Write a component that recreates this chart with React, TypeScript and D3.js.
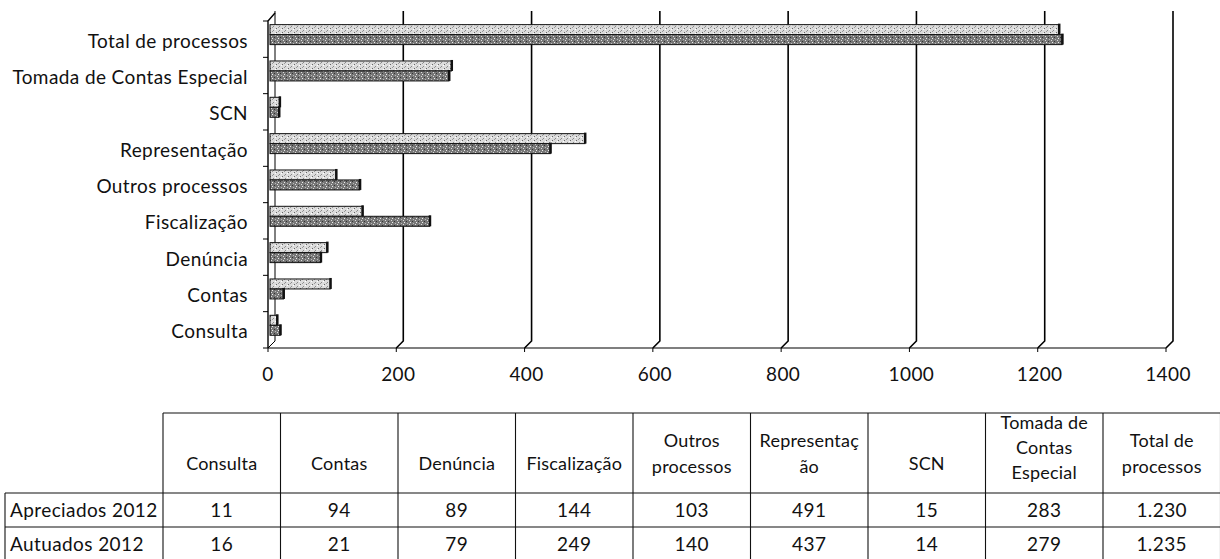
import React from "react";
import * as d3 from "d3";

const categories = [
  "Consulta",
  "Contas",
  "Denúncia",
  "Fiscalização",
  "Outros processos",
  "Representação",
  "SCN",
  "Tomada de Contas Especial",
  "Total de processos",
];
const headerLines = [
  ["Consulta"],
  ["Contas"],
  ["Denúncia"],
  ["Fiscalização"],
  ["Outros", "processos"],
  ["Representaç", "ão"],
  ["SCN"],
  ["Tomada de", "Contas", "Especial"],
  ["Total de", "processos"],
];
const seriesNames = ["Apreciados 2012", "Autuados 2012"];
const apreciados = [11, 94, 89, 144, 103, 491, 15, 283, 1230];
const autuados = [16, 21, 79, 249, 140, 437, 14, 279, 1235];
const xTicks = [0, 200, 400, 600, 800, 1000, 1200, 1400];

const FONT = "Lato, 'Open Sans', sans-serif";
const FS = 19;
const LS = 0.4;

export default function App() {
  const W = 1220;
  const H = 559;
  const floorY = 348;
  const topY = 21;
  const depthX = 7;
  const depthY = 7;

  const x = d3.scaleLinear().domain([0, 1400]).range([268, 1166]);
  const xb = d3.scaleLinear().domain([0, 1400]).range([270, 1168]);
  const y = d3
    .scaleBand<string>()
    .domain([...categories].reverse())
    .range([topY, floorY])
    .paddingInner(0)
    .paddingOuter(0);
  const bw = y.bandwidth();
  const barH = bw * 0.275;
  const off1 = bw * 0.1;

  const fmt = (v: number) => d3.format(",")(v).replace(/,/g, ".");

  const tableLeft = 163;
  const colW = 117.5;
  const rowLabelLeft = 5;
  const headTop = 413;
  const row1Top = 493;
  const row2Top = 527;
  const tableBottom = 561;
  const colX = d3.range(categories.length + 1).map((i) => tableLeft + i * colW);

  const headerYs: Record<number, number[]> = {
    1: [463],
    2: [440, 466],
    3: [422, 447, 472],
  };

  const series = [
    { name: seriesNames[0], values: apreciados, fill: "url(#patLight)", off: off1 },
    { name: seriesNames[1], values: autuados, fill: "url(#patDark)", off: off1 + barH },
  ];

  const textProps = {
    fontFamily: FONT,
    fontSize: FS,
    letterSpacing: LS,
    fill: "#111",
    dominantBaseline: "central" as const,
  };

  return (
    <svg width={W} height={H} style={{ position: "absolute", left: 0, top: 0, background: "#fff" }}>
      <defs>
        <pattern id="patLight" width="6" height="4" patternUnits="userSpaceOnUse">
          <rect width="6" height="4" fill="#dcdcdc" />
          <rect x="0" y="0" width="1" height="1" fill="#666" />
          <rect x="3" y="2" width="1" height="1" fill="#888" />
          <rect x="5" y="1" width="1" height="1" fill="#fff" />
          <rect x="2" y="3" width="1" height="1" fill="#999" />
        </pattern>
        <pattern id="patDark" width="6" height="4" patternUnits="userSpaceOnUse">
          <rect width="6" height="4" fill="#777" />
          <rect x="1" y="0" width="1" height="1" fill="#ddd" />
          <rect x="4" y="1" width="1" height="1" fill="#333" />
          <rect x="2" y="2" width="1" height="1" fill="#eee" />
          <rect x="5" y="3" width="1" height="1" fill="#bbb" />
        </pattern>
      </defs>

      {/* gridlines on back wall with floor slant */}
      {xTicks.map((t) => (
        <path
          key={"g" + t}
          d={`M${x(t) + depthX},${topY - 10} L${x(t) + depthX},${floorY - depthY} L${x(t)},${floorY}`}
          fill="none"
          stroke="#000"
          strokeWidth={t === 0 ? 1 : 1.6}
        />
      ))}

      {/* floor line and ticks */}
      <line x1={x(0)} x2={x(1400)} y1={floorY} y2={floorY} stroke="#000" strokeWidth={1.2} />
      {xTicks.map((t) => (
        <line key={"ft" + t} x1={x(t)} x2={x(t)} y1={floorY} y2={floorY + 4} stroke="#000" strokeWidth={1} />
      ))}

      {/* left axis */}
      <path d={`M${x(0) + depthX},${topY - 8} L${x(0)},${topY} L${x(0)},${floorY}`} fill="none" stroke="#000" strokeWidth={1.4} />
      {d3.range(categories.length + 1).map((i) => (
        <line
          key={"lt" + i}
          x1={x(0) - 5}
          x2={x(0)}
          y1={topY + i * bw}
          y2={topY + i * bw}
          stroke="#000"
          strokeWidth={1}
        />
      ))}

      {/* bars */}
      {series.map((s, si) =>
        categories.map((c, i) => {
          const y0 = (y(c) as number) + s.off;
          const x1 = xb(s.values[i]);
          return (
            <g key={si + "-" + c}>
              <rect x={xb(0)} y={y0} width={x1 - xb(0)} height={barH} fill={s.fill} stroke="#111" strokeWidth={1} />
              <rect x={x1 - 1} y={y0 - 1} width={2.5} height={barH + 1} fill="#111" />
            </g>
          );
        })
      )}

      {/* category labels */}
      {categories.map((c) => (
        <text key={"cl" + c} x={248} y={(y(c) as number) + bw / 2 + 1} textAnchor="end" {...textProps}>
          {c}
        </text>
      ))}

      {/* x tick labels */}
      {xTicks.map((t) => (
        <text key={"xl" + t} x={x(t) + (t === 0 ? 0 : 2)} y={373} textAnchor="middle" {...textProps}>
          {t}
        </text>
      ))}

      {/* table */}
      <g stroke="#111" strokeWidth={1.1} fill="none">
        <line x1={colX[0]} x2={colX[colX.length - 1]} y1={headTop} y2={headTop} />
        <line x1={rowLabelLeft} x2={colX[colX.length - 1]} y1={row1Top} y2={row1Top} />
        <line x1={rowLabelLeft} x2={colX[colX.length - 1]} y1={row2Top} y2={row2Top} />
        <line x1={rowLabelLeft} x2={colX[colX.length - 1]} y1={tableBottom} y2={tableBottom} />
        <line x1={rowLabelLeft} x2={rowLabelLeft} y1={row1Top} y2={tableBottom} />
        {colX.map((cx, i) => (
          <line key={"cx" + i} x1={cx} x2={cx} y1={headTop} y2={tableBottom} />
        ))}
      </g>
      {headerLines.map((lines, i) =>
        lines.map((ln, j) => (
          <text
            key={"h" + i + "-" + j}
            x={(colX[i] + colX[i + 1]) / 2}
            y={headerYs[lines.length][j]}
            textAnchor="middle"
            {...textProps}
            fontSize={18}
            letterSpacing={0.2}
          >
            {ln}
          </text>
        ))
      )}
      {series.map((s, si) => (
        <g key={"row" + si}>
          <text x={10} y={(si === 0 ? row1Top : row2Top) + 16} {...textProps}>
            {s.name}
          </text>
          {s.values.map((v, i) => (
            <text
              key={"v" + si + "-" + i}
              x={(colX[i] + colX[i + 1]) / 2}
              y={(si === 0 ? row1Top : row2Top) + 16}
              textAnchor="middle"
              {...textProps}
            >
              {fmt(v)}
            </text>
          ))}
        </g>
      ))}
    </svg>
  );
}
